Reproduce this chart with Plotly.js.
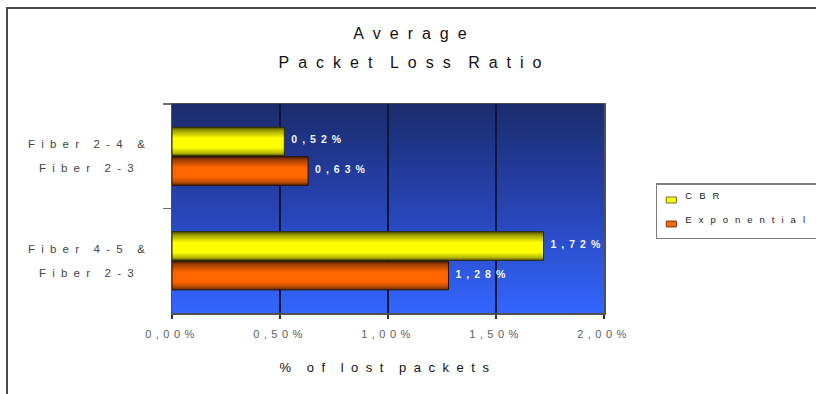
<!DOCTYPE html>
<html>
<head>
<meta charset="utf-8">
<script src="https://cdn.plot.ly/plotly-3.0.1.min.js"></script>
<style>
  html, body { margin: 0; padding: 0; background: #fff; }
  #wrap { position: relative; width: 816px; height: 394px; overflow: hidden; }
  #chart { width: 816px; height: 394px; }
  #frame {
    position: absolute; left: 6px; top: 7px; width: 900px; height: 500px;
    border-left: 2.5px solid #4a4a4a; border-top: 2.5px solid #4a4a4a;
    pointer-events: none; z-index: 5;
  }
  /* wide letter spacing of the chart texts */
  .g-gtitle text { letter-spacing: 9px; word-spacing: -5px; }
  .xtitle { letter-spacing: 7.5px; word-spacing: -3px; }
  .xtick text { letter-spacing: 4.5px; }
  .annotation-text { letter-spacing: 6.2px; word-spacing: -1px; }
  .legendtext { letter-spacing: 7px; }
  .bartext { letter-spacing: 5px; }
</style>
</head>
<body>
<div id="wrap">
  <div id="chart"></div>
  <div id="frame"></div>
</div>
<script>
// Routes compared
const categories = ['Fiber 2-4 &<br>Fiber 2-3', 'Fiber 4-5 &<br>Fiber 2-3'];
// Average packet loss ratio (fraction of packets lost)
const cbrValues = [0.0052, 0.0172];
const exponentialValues = [0.0063, 0.0128];
const seriesNames = ['CBR', 'Exponential'];
const xTickValues = [0, 0.005, 0.01, 0.015, 0.02];

const FONT = 'Liberation Sans, Arial, Helvetica, sans-serif';

function barTrace(name, values, color, edge, group) {
  return {
    type: 'bar',
    orientation: 'h',
    name: name,
    legendgroup: group,
    y: categories,
    x: values,
    marker: { color: color, line: { color: edge, width: 1 } },
    texttemplate: '%{x:.2%}',
    textposition: 'outside',
    constraintext: 'none',
    cliponaxis: false,
    textfont: { family: FONT, size: 10.5, color: '#f4f4f4', weight: 'bold' },
    hoverinfo: 'skip'
  };
}

const data = [
  barTrace(seriesNames[0], cbrValues, '#ffff00', '#2b2b00', 'g1'),
  barTrace(seriesNames[1], exponentialValues, '#ff6600', '#2b1000', 'g2')
];

// category labels, one annotation per line so the line gap can be wide
const catAnnotations = [];
categories.forEach(cat => {
  const lines = cat.split('<br>');
  lines.forEach((line, i) => {
    catAnnotations.push({
      xref: 'paper', yref: 'y', x: -0.19, y: cat,
      xanchor: 'center', yanchor: 'middle',
      yshift: ((lines.length - 1) / 2 - i) * 24,
      text: line, showarrow: false,
      font: { family: FONT, size: 11.5, color: '#444444' }
    });
  });
});

const layout = {
  width: 816, height: 394,
  margin: { l: 172, r: 212, t: 104, b: 81, autoexpand: false },
  paper_bgcolor: '#ffffff',
  plot_bgcolor: '#2a4cc0',
  separators: ',.',
  showlegend: true,
  bargap: 0.435,
  bargroupgap: 0.03,
  title: {
    text: 'Average',
    x: 0.508, xanchor: 'center',
    y: 1 - 33 / 394, yref: 'container', yanchor: 'middle',
    font: { family: FONT, size: 16, color: '#111111' },
    subtitle: {
      text: 'Packet Loss Ratio',
      font: { family: FONT, size: 16, color: '#111111' }
    }
  },
  xaxis: {
    range: [0, 0.02],
    tickvals: xTickValues,
    tickformat: '.2%',
    ticks: 'outside', ticklen: 4, tickwidth: 1.5, tickcolor: '#333333',
    ticklabelstandoff: 6,
    tickfont: { family: FONT, size: 11, color: '#5c5c5c' },
    showline: true, linecolor: '#505050', linewidth: 1.5, mirror: true,
    showgrid: true, gridcolor: '#0d1838', gridwidth: 2,
    zeroline: false,
    fixedrange: true,
    title: {
      text: '% of lost packets',
      standoff: 24,
      font: { family: FONT, size: 13, color: '#111111' }
    }
  },
  yaxis: {
    type: 'category',
    categoryorder: 'array', categoryarray: categories,
    autorange: 'reversed',
    tickson: 'boundaries',
    ticks: 'outside', ticklen: 8, tickwidth: 1.5, tickcolor: '#707070',
    showticklabels: false,
    showgrid: false,
    showline: true, linecolor: '#505050', linewidth: 1.5, mirror: true,
    zeroline: false,
    fixedrange: true
  },
  legend: {
    x: 1.12, y: 0.622, xanchor: 'left', yanchor: 'top',
    bgcolor: '#ffffff', bordercolor: '#808080', borderwidth: 1.5,
    traceorder: 'grouped', tracegroupgap: 5,
    font: { family: FONT, size: 9.5, color: '#222222' }
  },
  annotations: catAnnotations
};

function svgEl(tag, attrs) {
  const el = document.createElementNS('http://www.w3.org/2000/svg', tag);
  Object.keys(attrs).forEach(k => el.setAttribute(k, attrs[k]));
  return el;
}

function addGradient(defs, id, stops) {
  const g = svgEl('linearGradient', { id: id, x1: 0, y1: 0, x2: 0, y2: 1 });
  stops.forEach(s => g.appendChild(svgEl('stop', { offset: s[0], 'stop-color': s[1] })));
  defs.appendChild(g);
}

// move a text element (and any line tspans) by a few pixels
function nudgeText(el, dx, dy) {
  if (!el.hasAttribute('x') && !el.hasAttribute('y')) {
    el.setAttribute('transform', (el.getAttribute('transform') || '') + ' translate(' + dx + ',' + dy + ')');
    return;
  }
  [el].concat(Array.from(el.querySelectorAll('tspan'))).forEach(n => {
    if (n.hasAttribute('x')) n.setAttribute('x', parseFloat(n.getAttribute('x')) + dx);
    if (n.hasAttribute('y')) n.setAttribute('y', parseFloat(n.getAttribute('y')) + dy);
  });
}

Plotly.newPlot('chart', data, layout, { staticPlot: true, displayModeBar: false }).then(gd => {
  const svgs = Array.from(gd.querySelectorAll('svg.main-svg'));
  const svg = svgs[0];
  let defs = svg.querySelector('defs');
  if (!defs) { defs = svgEl('defs', {}); svg.insertBefore(defs, svg.firstChild); }

  // plot area: dark navy at the top fading to bright blue at the bottom
  addGradient(defs, 'plotBg', [[0, '#1b2b6c'], [0.5, '#2744b4'], [1, '#3366ff']]);
  // cylinder-like shading of the bars
  addGradient(defs, 'barYellow', [[0, '#4a4a00'], [0.12, '#9e9e00'], [0.38, '#ffff00'],
    [0.72, '#ffff00'], [0.9, '#b8b800'], [1, '#5c5c00']]);
  addGradient(defs, 'barOrange', [[0, '#4a1e00'], [0.12, '#a34000'], [0.38, '#ff6600'],
    [0.72, '#ff6600'], [0.9, '#b84a00'], [1, '#5c2500']]);

  svg.querySelectorAll('rect.bg').forEach(r => { r.style.fill = 'url(#plotBg)'; });
  const fills = ['url(#barYellow)', 'url(#barOrange)'];
  svg.querySelectorAll('.barlayer .trace').forEach((t, i) => {
    t.querySelectorAll('.point path').forEach(p => { p.style.fill = fills[i % 2]; });
  });

  // a little air between bar ends and their value labels
  svg.querySelectorAll('text.bartext').forEach(t => { t.setAttribute('dx', 4); t.setAttribute('dy', -2); });

  svgs.forEach(s => {
    // tighter legend rows: text closer to the swatch, swatches small and flat
    s.querySelectorAll('text.legendtext').forEach(t => nudgeText(t, -12, -4));
    s.querySelectorAll('.legendpoints path').forEach(p => {
      p.setAttribute('transform', (p.getAttribute('transform') || '') + ' translate(-6,1) scale(0.85,0.5)');
    });
    // second title line sits a bit closer to the first
    s.querySelectorAll('text').forEach(t => {
      if (t.textContent === 'Packet Loss Ratio') nudgeText(t, 0, -5);
    });
  });
});
</script>
</body>
</html>
